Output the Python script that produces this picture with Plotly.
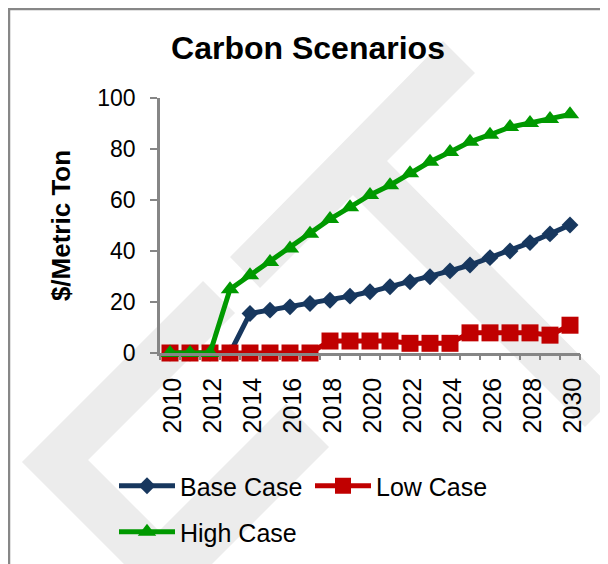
import plotly.graph_objects as go

# ---------------- data ----------------
years = list(range(2010, 2031))
base_case = [0, 0, 0, 0, 15.5, 16.8, 18.1, 19.4, 20.7, 22.3, 24.0, 26.0, 27.9, 29.9,
             32.2, 34.5, 37.4, 40.0, 43.3, 46.7, 50.2]
low_case = [0, 0, 0, 0, 0, 0, 0, 0, 4.7, 4.7, 4.7, 4.7, 3.8, 3.8, 3.8, 7.9, 7.9, 7.9,
            7.9, 7.0, 10.9]
high_case = [0, 0, 0, 25.0, 30.5, 35.7, 41.0, 46.8, 52.5, 57.2, 62.0, 65.8, 70.5, 75.0,
             78.8, 82.8, 85.6, 88.6, 90.2, 91.8, 93.6]
x_tick_vals = list(range(2010, 2031, 2))
y_tick_vals = [0, 20, 40, 60, 80, 100]

# ---------------- layout constants (px) ----------------
OFF = 8                       # page body margin
FIG_W, FIG_H = 600, 556
M_L, M_R, M_T, M_B = 152, 28, 90, 211
PW = FIG_W - M_L - M_R
PH = FIG_H - M_T - M_B
FONT = "Liberation Sans, Arial, sans-serif"
AXIS_GREY = "#868686"


def to_paper(px, py):
    """screen pixel (reference frame) -> paper coordinates"""
    fx, fy = px - OFF, py - OFF
    return (fx - M_L) / PW, (M_T + PH - fy) / PH


def poly_path(points):
    pts = [to_paper(px, py) for px, py in points]
    return "M " + " L ".join(f"{x:.4f},{y:.4f}" for x, y in pts) + " Z"


# watermark polygons (screen pixel coordinates)
wm_chevron = [(22, 462), (203, 281), (235, 313), (88, 460), (240, 612), (172, 612)]
wm_lambda = [(230, 257), (443, 41), (475, 73), (387, 161), (618, 394), (585, 427),
             (353, 195), (260, 288)]
wm_lower = [(286, 404), (329, 447), (176, 600), (90, 600)]

fig = go.Figure()

series = [
    ("Base Case", base_case, "#17375E", "diamond", 13),
    ("Low Case", low_case, "#C00000", "square", 17),
    ("High Case", high_case, "#009900", "triangle-up", 16),
]
for name, vals, col, sym, sz in series:
    fig.add_trace(go.Scatter(
        x=years, y=vals, name=name, mode="lines+markers",
        line=dict(color=col, width=5),
        marker=dict(symbol=sym, size=sz, color=col, line=dict(width=0)),
        cliponaxis=False,
        legend="legend2" if name == "High Case" else "legend",
    ))

# helper trace on x2 so tick marks between categories show
fig.add_trace(go.Scatter(x=[2009.5], y=[None], xaxis="x2", showlegend=False,
                         hoverinfo="skip"))

shapes = []
for poly in (wm_chevron, wm_lambda, wm_lower):
    shapes.append(dict(type="path", xref="paper", yref="paper", path=poly_path(poly),
                       fillcolor="#ececec", line=dict(width=0), layer="below"))
bx0, by0 = to_paper(9, 9)
bx1, by1 = to_paper(640, 600)
shapes.append(dict(type="rect", xref="paper", yref="paper", x0=bx0, y0=by1, x1=bx1, y1=by0,
                   line=dict(color="#878787", width=2.5), fillcolor="rgba(0,0,0,0)",
                   layer="below"))

lx, _ = to_paper(114, 0)
_, ly1 = to_paper(0, 463)
_, ly2 = to_paper(0, 509)

fig.update_layout(
    width=FIG_W, height=FIG_H,
    margin=dict(l=M_L, r=M_R, t=M_T, b=M_B, autoexpand=False),
    paper_bgcolor="white", plot_bgcolor="rgba(0,0,0,0)",
    font=dict(family=FONT, color="black"),
    title=dict(text="Carbon Scenarios", x=(308 - OFF) / FIG_W, xanchor="center",
               y=1 - (48 - OFF) / FIG_H, yanchor="middle",
               font=dict(size=32, family=FONT, weight="bold", color="black")),
    xaxis=dict(range=[2009.5, 2030.5], tickmode="array", tickvals=x_tick_vals,
               ticktext=[str(v) for v in x_tick_vals], tickangle=-90, ticks="",
               showline=True, linecolor=AXIS_GREY, linewidth=2.5, showgrid=False,
               zeroline=False, tickfont=dict(size=25, family=FONT),
               ticklabelstandoff=12, ticklabelshift=3, fixedrange=True),
    xaxis2=dict(range=[2009.5, 2030.5], overlaying="x", anchor="y", side="bottom",
                tickmode="linear", tick0=2009.5, dtick=1, ticks="outside", ticklen=6,
                tickwidth=2, tickcolor=AXIS_GREY, showticklabels=False,
                showgrid=False, zeroline=False, showline=False),
    yaxis=dict(range=[0, 100], tickmode="array", tickvals=y_tick_vals,
               ticks="outside", ticklen=7, tickwidth=2, tickcolor=AXIS_GREY,
               showline=True, linecolor=AXIS_GREY, linewidth=2.5, showgrid=False,
               zeroline=False, tickfont=dict(size=23, family=FONT),
               ticklabelstandoff=10,
               title=dict(text="$/Metric Ton", standoff=20,
                          font=dict(size=26, family=FONT, weight="bold"))),
    legend=dict(orientation="h", x=lx, xanchor="left", y=ly1, yanchor="top",
                font=dict(size=25, family=FONT), bgcolor="rgba(0,0,0,0)",
                entrywidth=125, entrywidthmode="pixels", itemwidth=56,
                traceorder="normal"),
    legend2=dict(orientation="h", x=lx, xanchor="left", y=ly2, yanchor="top",
                 font=dict(size=25, family=FONT), bgcolor="rgba(0,0,0,0)",
                 itemwidth=56),
    shapes=shapes,
    showlegend=True,
)

fig.write_html("out.html")
